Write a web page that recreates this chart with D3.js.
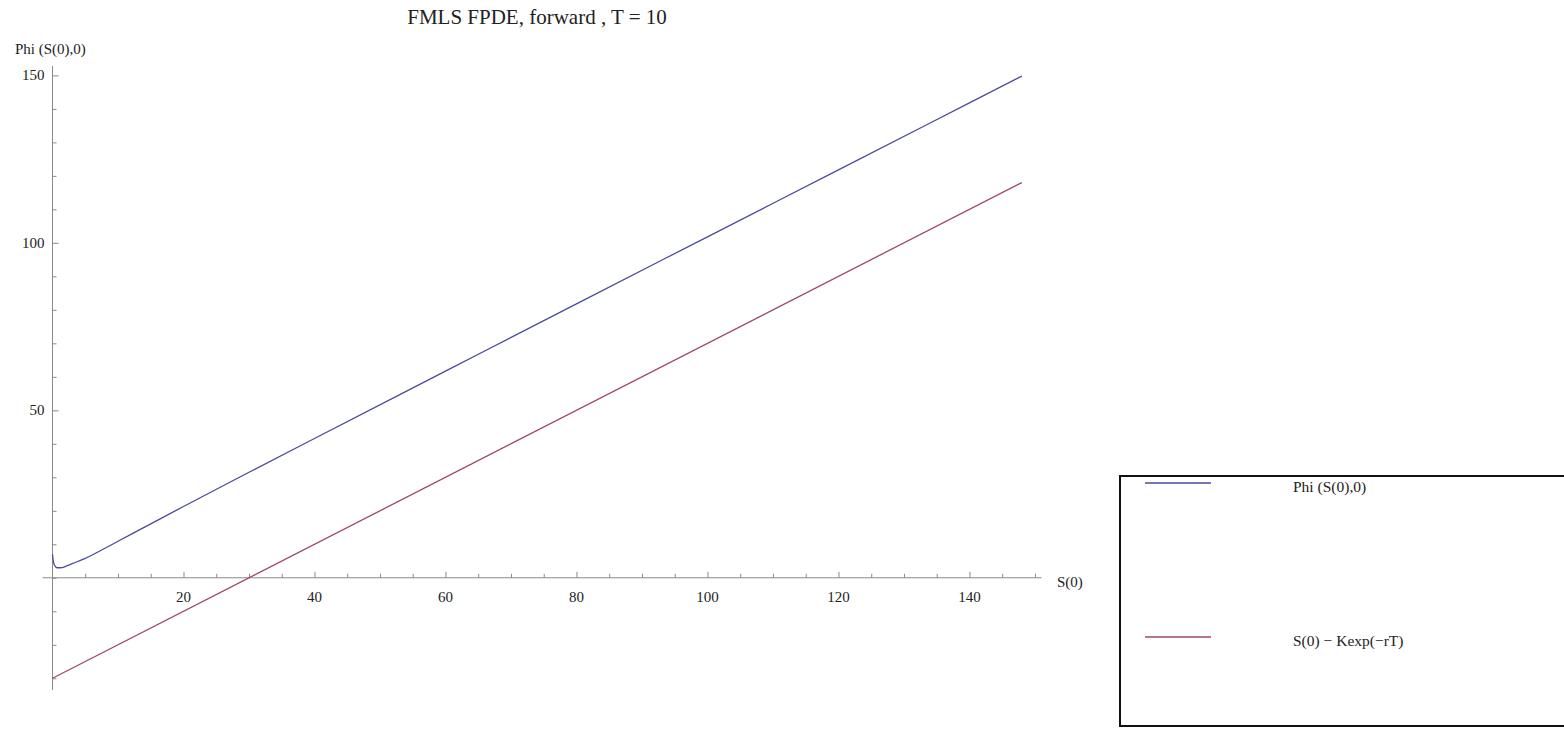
<!DOCTYPE html>
<html>
<head>
<meta charset="utf-8">
<script src="https://cdn.jsdelivr.net/npm/d3@7"></script>
<style>
  html, body { margin: 0; padding: 0; background: #fff; }
  svg { display: block; }
  text { font-family: "Liberation Serif", "DejaVu Serif", serif; fill: #222; }
</style>
</head>
<body>
<svg id="chart" width="1564" height="729"></svg>
<script>
// ---- data ----
const title = "FMLS FPDE, forward , T = 10";
const yLabel = "Phi (S(0),0)";
const xLabel = "S(0)";
const seriesNames = ["Phi (S(0),0)", "S(0) \u2212 Kexp(\u2212rT)"];
const xTicks = [20, 40, 60, 80, 100, 120, 140];
const yTicks = [50, 100, 150];
// Phi(S(0),0)
const phiS   = [0, 0.1, 0.3, 0.7, 1.2, 2, 3, 5, 7.5, 10, 15, 20, 30, 40, 60, 80, 100, 120, 140, 148];
const phiVal = [7, 5.2, 3.8, 3.0, 3.0, 3.4, 4.2, 5.8, 8.3, 10.9, 16.1, 21.3, 31.5, 41.6, 61.7, 81.8, 101.8, 121.8, 141.8, 149.8];
// S(0) - K exp(-rT)
const payS   = [0, 148];
const payVal = [-30, 118];

const colors = ["#4a4aa0", "#a04a5e"];

// ---- chart ----
const svg = d3.select("#chart");
const x = d3.scaleLinear().domain([0, 151]).range([52.5, 1041.5]);
const y = d3.scaleLinear().domain([-33.5, 152.8]).range([690, 66]);

// title
svg.append("text").attr("x", 537).attr("y", 24).attr("text-anchor", "middle")
  .style("font-size", "21px").text(title);

// x axis (ticks pointing up)
const xAxis = d3.axisTop(x).tickValues(d3.range(5, 151, 5)).tickSize(4).tickFormat("");
const gx = svg.append("g").attr("transform", `translate(0,${y(0)})`).call(xAxis);
gx.select(".domain").attr("d", `M${x(0) - 10},0H${x(151)}`);
gx.selectAll(".tick line").attr("y2", d => xTicks.includes(d) ? -6 : -4);
gx.selectAll("path, line").attr("stroke", "#8a8a8a").attr("stroke-width", 1);
svg.append("g").selectAll("text").data(xTicks).join("text")
  .attr("x", d => x(d)).attr("y", y(0) + 24).attr("text-anchor", "middle")
  .style("font-size", "15px").text(d => d);
svg.append("text").attr("x", 1057).attr("y", y(0) + 9).style("font-size", "15px").text(xLabel);

// y axis (ticks pointing right)
const yAxis = d3.axisRight(y).tickValues(d3.range(-30, 151, 10)).tickSize(4).tickFormat("");
const gy = svg.append("g").attr("transform", `translate(${x(0)},0)`).call(yAxis);
gy.select(".domain").attr("d", `M0,${y(-33.5)}V${y(152.8)}`);
gy.selectAll(".tick line").attr("x2", d => yTicks.includes(d) ? 6 : 4);
gy.selectAll("path, line").attr("stroke", "#8a8a8a").attr("stroke-width", 1);
svg.append("g").selectAll("text").data(yTicks).join("text")
  .attr("x", x(0) - 8).attr("y", d => y(d) + 5).attr("text-anchor", "end")
  .style("font-size", "15px").text(d => d);
svg.append("text").attr("x", 15).attr("y", 54).style("font-size", "15px").text(yLabel);

// lines
const line = d3.line().x(d => x(d[0])).y(d => y(d[1])).curve(d3.curveMonotoneX);
svg.append("path").datum(d3.zip(phiS, phiVal)).attr("d", line)
  .attr("fill", "none").attr("stroke", colors[0]).attr("stroke-width", 1.3);
svg.append("path").datum(d3.zip(payS, payVal)).attr("d", d3.line().x(d => x(d[0])).y(d => y(d[1])))
  .attr("fill", "none").attr("stroke", colors[1]).attr("stroke-width", 1.3);

// legend
const lg = svg.append("g");
lg.append("rect").attr("x", 1120).attr("y", 476).attr("width", 460).attr("height", 250)
  .attr("fill", "none").attr("stroke", "#111").attr("stroke-width", 2);
const legY = [483, 637];
seriesNames.forEach((name, i) => {
  lg.append("line").attr("x1", 1145).attr("x2", 1211).attr("y1", legY[i]).attr("y2", legY[i])
    .attr("stroke", colors[i]).attr("stroke-width", 1.3);
  lg.append("text").attr("x", 1293).attr("y", legY[i] + 9).style("font-size", "15.5px").text(name);
});
</script>
</body>
</html>
